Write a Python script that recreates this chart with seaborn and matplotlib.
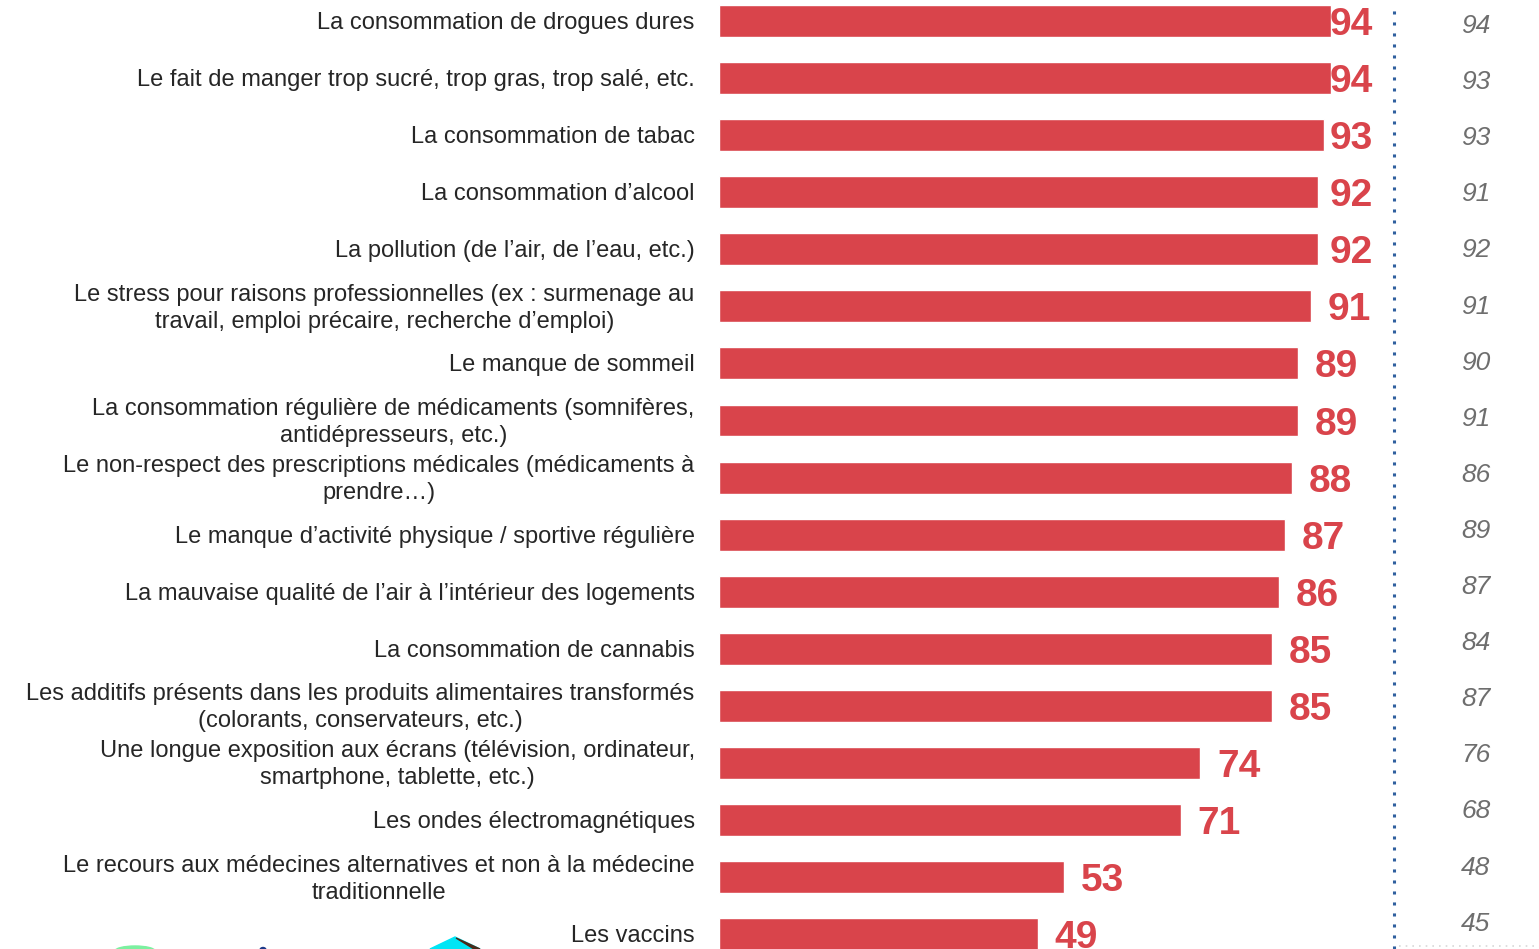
import matplotlib
matplotlib.use("Agg")
import matplotlib.pyplot as plt
import seaborn as sns
import pandas as pd
from matplotlib.patches import Polygon, Ellipse

# Données
categories = [
    "La consommation de drogues dures",
    "Le fait de manger trop sucré, trop gras, trop salé, etc.",
    "La consommation de tabac",
    "La consommation d\u2019alcool",
    "La pollution (de l\u2019air, de l\u2019eau, etc.)",
    "Le stress pour raisons professionnelles (ex : surmenage au\ntravail, emploi précaire, recherche d\u2019emploi)",
    "Le manque de sommeil",
    "La consommation régulière de médicaments (somnifères,\nantidépresseurs, etc.)",
    "Le non-respect des prescriptions médicales (médicaments à\nprendre\u2026)",
    "Le manque d\u2019activité physique / sportive régulière",
    "La mauvaise qualité de l\u2019air à l\u2019intérieur des logements",
    "La consommation de cannabis",
    "Les additifs présents dans les produits alimentaires transformés\n(colorants, conservateurs, etc.)",
    "Une longue exposition aux écrans (télévision, ordinateur,\nsmartphone, tablette, etc.)",
    "Les ondes électromagnétiques",
    "Le recours aux médecines alternatives et non à la médecine\ntraditionnelle",
    "Les vaccins",
]
valeurs = [94, 94, 93, 92, 92, 91, 89, 89, 88, 87, 86, 85, 85, 74, 71, 53, 49]
valeurs_precedentes = [94, 93, 93, 91, 92, 91, 90, 91, 86, 89, 87, 84, 87, 76, 68, 48, 45]

ROUGE = "#D9444B"
GRIS = "#6E6E6E"
BLEU = "#2F5F9E"

df = pd.DataFrame({"categorie": categories, "valeur": valeurs})

sns.set_style("white")
plt.rcParams["font.family"] = ["Liberation Sans", "DejaVu Sans"]

fig = plt.figure(figsize=(15.39, 9.49), dpi=100)
ax = fig.add_axes([0, 0, 1, 1])

sns.barplot(data=df, y="categorie", x="valeur", orient="h", color=ROUGE,
            saturation=1, width=0.56, ax=ax)

# libellés à gauche (centrés ligne par ligne)
for i, cat in enumerate(categories):
    ax.text(-3.7, i + 0.035, cat, ha="right", va="center", multialignment="center",
            fontsize=17, color="#262626", linespacing=1.3)

# valeurs en gras à droite des barres
for i, v in enumerate(valeurs):
    ax.text(min(v + 2.6, 93.8), i + 0.07, str(v), ha="left", va="center",
            fontsize=28, fontweight="bold", color=ROUGE)

# ligne pointillée verticale et valeurs précédentes (colonne un peu plus serrée)
ax.axvline(103.8, ymin=0, ymax=0.99, color=BLEU, linestyle=(0, (1, 2.6)),
           linewidth=2.2, dash_capstyle="butt")
ax.plot([104.5, 126], [16.2, 16.2], color="#D8D8D8", linestyle=(0, (1, 3)),
        linewidth=1.2)
for i, v in enumerate(valeurs_precedentes):
    ax.text(116.3, 0.088 + 0.983 * i, str(v), ha="center", va="center", fontsize=19,
            fontstyle="italic", color=GRIS)

ax.set_xlim(-110.4, 126)
ax.set_ylim(16.26, -0.368)
ax.axis("off")

# fragments du logo coupé en bas à gauche
fig.patches.append(Polygon([[455 / 1539, 1 - 937 / 949], [430 / 1539, 0], [480 / 1539, 0]],
                           closed=True, transform=fig.transFigure, color="#00E5F5"))
fig.patches.append(Polygon([[456 / 1539, 1 - 938 / 949], [474 / 1539, 0], [480 / 1539, 0]],
                           closed=True, transform=fig.transFigure, color="#4A2A1A"))
fig.patches.append(Ellipse((135 / 1539, -2 / 949), 40 / 1539, 10 / 949,
                           transform=fig.transFigure, color="#7CF0A0"))
fig.patches.append(Ellipse((263 / 1539, -1 / 949), 6 / 1539, 5 / 949,
                           transform=fig.transFigure, color="#1E3A8A"))

fig.savefig("out.png", dpi=100, facecolor="white")
